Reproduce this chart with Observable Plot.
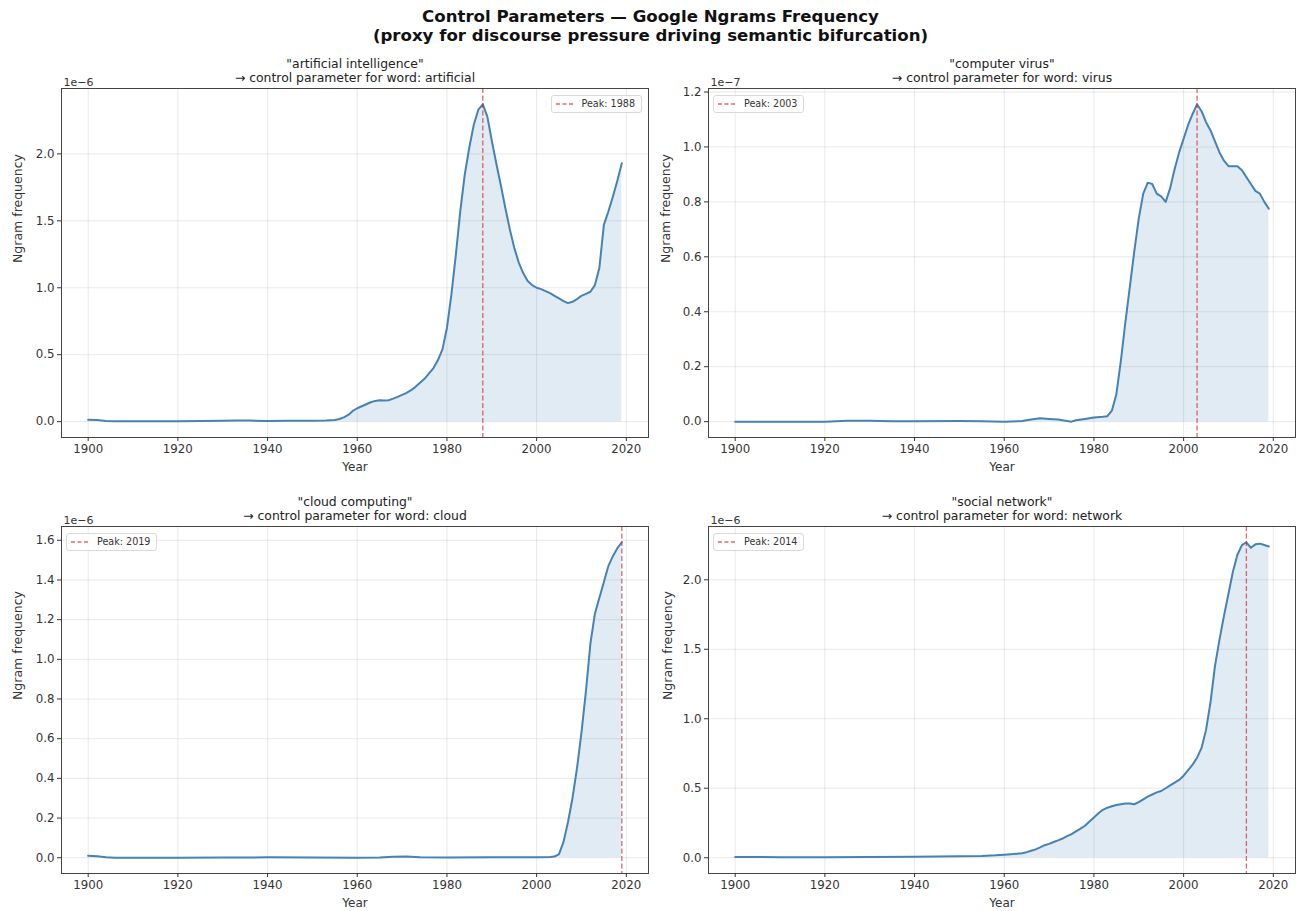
<!DOCTYPE html>
<html>
<head>
<meta charset="utf-8">
<script src="https://cdn.jsdelivr.net/npm/d3@7"></script>
<script src="https://cdn.jsdelivr.net/npm/@observablehq/plot@0.6"></script>
<style>
  html, body { margin: 0; padding: 0; background: #fff; }
  #wrap { position: relative; width: 1301px; height: 911px; font-family: "DejaVu Sans", sans-serif; color: #222; overflow: hidden; }
  #title { position: absolute; left: 0; width: 1301px; top: 7px; text-align: center; font-weight: bold; font-size: 16.6px; line-height: 19px; color: #111; }
  .panel { position: absolute; }
  .panel svg { overflow: visible; }
  .panel svg g[aria-label*="axis"], .panel svg g[aria-label*="axis"] text, .panel svg g.tick text { font-size: 11.8px !important; font-family: "DejaVu Sans", sans-serif !important; }
  .legend { position: absolute; background: rgba(255,255,255,0.85); border: 1px solid #d9d9d9; border-radius: 3px; font-size: 9.6px; color: #333; padding: 2px 6px 2px 4px; line-height: 12px; white-space: nowrap; }
  .legend svg { vertical-align: middle; margin-right: 8px; }
</style>
</head>
<body>
<div id="wrap">
  <div id="title">Control Parameters — Google Ngrams Frequency<br>(proxy for discourse pressure driving semantic bifurcation)</div>
</div>
<script>
// ---- Data ----
// "artificial intelligence"  (units of 1e-6)
const aiYears = [1900,1902,1904,1906,1910,1915,1920,1925,1930,1933,1936,1940,1945,1950,1953,1955,
  1956,1957,1958,1959,1960,1961,1962,1963,1964,1965,1966,1967,1968,1969,1970,1971,1972,1973,1974,1975,
  1976,1977,1978,1979,1980,1981,1982,1983,1984,1985,1986,1987,1988,1989,1990,1991,1992,1993,1994,1995,
  1996,1997,1998,1999,2000,2001,2002,2003,2004,2005,2006,2007,2008,2009,2010,2011,2012,2013,2014,2015,
  2016,2017,2018,2019];
const aiValues = [0.015,0.012,0.004,0.002,0.002,0.003,0.003,0.004,0.006,0.009,0.008,0.005,0.006,0.006,0.008,0.012,
  0.02,0.032,0.05,0.08,0.10,0.115,0.13,0.145,0.155,0.16,0.157,0.16,0.172,0.185,0.20,0.215,0.235,0.26,0.29,0.32,
  0.36,0.40,0.46,0.54,0.70,0.95,1.25,1.58,1.85,2.05,2.22,2.33,2.37,2.28,2.10,1.93,1.77,1.60,1.44,1.30,
  1.19,1.11,1.05,1.02,1.00,0.99,0.975,0.96,0.94,0.92,0.90,0.885,0.895,0.915,0.94,0.955,0.97,1.02,1.15,1.47,
  1.57,1.68,1.80,1.93];

// "computer virus"  (units of 1e-7)
const cvYears = [1900,1910,1920,1925,1930,1935,1940,1950,1955,1960,1964,1966,1968,1970,1972,1974,1975,1976,1978,
  1980,1982,1983,1984,1985,1986,1987,1988,1989,1990,1991,1992,1993,1994,1995,1996,1997,1998,1999,2000,
  2001,2002,2003,2004,2005,2006,2007,2008,2009,2010,2011,2012,2013,2014,2015,2016,2017,2018,2019];
const cvValues = [0.0,0.0,0.0,0.003,0.003,0.001,0.001,0.002,0.001,0.0,0.002,0.008,0.012,0.010,0.008,0.002,0.0,0.005,0.010,
  0.015,0.018,0.02,0.04,0.10,0.22,0.36,0.49,0.62,0.74,0.83,0.87,0.865,0.83,0.82,0.80,0.85,0.92,0.98,1.03,
  1.08,1.12,1.155,1.13,1.09,1.06,1.02,0.98,0.95,0.93,0.93,0.93,0.915,0.89,0.865,0.84,0.83,0.80,0.775];

// "cloud computing"  (units of 1e-6)
const ccYears = [1900,1902,1904,1906,1910,1920,1930,1940,1950,1960,1965,1968,1971,1974,1980,1990,2000,2003,
  2004,2005,2006,2007,2008,2009,2010,2011,2012,2013,2014,2015,2016,2017,2018,2019];
const ccValues = [0.010,0.008,0.002,0.0,0.0,0.0,0.001,0.002,0.001,0.0,0.001,0.005,0.006,0.002,0.001,0.002,0.003,0.004,
  0.006,0.018,0.08,0.18,0.30,0.45,0.63,0.84,1.08,1.23,1.31,1.39,1.47,1.52,1.56,1.59];

// "social network"  (units of 1e-6)
const snYears = [1900,1910,1920,1930,1940,1950,1955,1958,1960,1962,1964,1965,1966,1967,1968,1969,1970,1971,1972,
  1973,1974,1975,1976,1977,1978,1979,1980,1981,1982,1983,1984,1985,1986,1987,1988,1989,1990,1991,1992,
  1993,1994,1995,1996,1997,1998,1999,2000,2001,2002,2003,2004,2005,2006,2007,2008,2009,2010,2011,2012,
  2013,2014,2015,2016,2017,2018,2019];
const snValues = [0.005,0.004,0.004,0.005,0.007,0.010,0.012,0.017,0.022,0.026,0.032,0.040,0.050,0.060,0.074,0.090,0.100,0.113,0.125,
  0.138,0.155,0.170,0.190,0.210,0.230,0.260,0.290,0.320,0.345,0.360,0.370,0.380,0.385,0.390,0.390,0.385,0.400,0.420,0.440,
  0.455,0.470,0.480,0.500,0.520,0.540,0.560,0.590,0.630,0.670,0.720,0.790,0.920,1.120,1.380,1.570,1.740,1.900,2.060,2.180,
  2.250,2.270,2.230,2.255,2.260,2.250,2.240];

// Tick values
const xTicks = [1900,1920,1940,1960,1980,2000,2020];
const aiTicks = [0,0.5,1.0,1.5,2.0];
const cvTicks = [0,0.2,0.4,0.6,0.8,1.0,1.2];
const ccTicks = [0,0.2,0.4,0.6,0.8,1.0,1.2,1.4,1.6];
const snTicks = [0,0.5,1.0,1.5,2.0];

const panels = [
  {phrase: "artificial intelligence", word: "artificial", exp: "1e\u22126", years: aiYears, values: aiValues, ticks: aiTicks,
   left: 0, top: 50, width: 650, height: 430, mL: 61, mR: 2, mT: 38, mB: 43, legend: "right", ylabDx: -44},
  {phrase: "computer virus", word: "virus", exp: "1e\u22127", years: cvYears, values: cvValues, ticks: cvTicks,
   left: 650, top: 50, width: 651, height: 430, mL: 58, mR: 6, mT: 38, mB: 43, legend: "left", ylabDx: -43},
  {phrase: "cloud computing", word: "cloud", exp: "1e\u22126", years: ccYears, values: ccValues, ticks: ccTicks,
   left: 0, top: 488, width: 650, height: 423, mL: 61, mR: 2, mT: 38, mB: 38, legend: "left", ylabDx: -44},
  {phrase: "social network", word: "network", exp: "1e\u22126", years: snYears, values: snValues, ticks: snTicks,
   left: 650, top: 488, width: 651, height: 423, mL: 58, mR: 6, mT: 38, mB: 38, legend: "left", ylabDx: -41}
];

const wrap = document.getElementById("wrap");
const fmt = d3.format(".1f");

for (const p of panels) {
  const data = p.years.map((yr, i) => ({year: yr, v: p.values[i]}));
  const peak = d3.greatest(data, d => d.v);
  const vmax = d3.max(data, d => d.v);
  const chart = Plot.plot({
    width: p.width,
    height: p.height,
    marginLeft: p.mL, marginRight: p.mR, marginTop: p.mT, marginBottom: p.mB,
    style: {fontFamily: "DejaVu Sans, sans-serif", fontSize: "12px", color: "#333", background: "white", overflow: "visible"},
    x: {domain: [1894.05, 2024.95], ticks: xTicks, tickFormat: d => String(d), label: null},
    y: {domain: [-0.05 * vmax, 1.05 * vmax], ticks: p.ticks, tickFormat: fmt, label: null},
    marks: [
      Plot.gridX(xTicks, {stroke: "#b0b0b0", strokeOpacity: 0.35, strokeWidth: 0.8}),
      Plot.gridY(p.ticks, {stroke: "#b0b0b0", strokeOpacity: 0.35, strokeWidth: 0.8}),
      Plot.areaY(data, {x: "year", y: "v", fill: "steelblue", fillOpacity: 0.16}),
      Plot.lineY(data, {x: "year", y: "v", stroke: "steelblue", strokeWidth: 2}),
      Plot.ruleX([peak], {x: "year", stroke: "#d62728", strokeOpacity: 0.7, strokeWidth: 1.3, strokeDasharray: "5,2.5"}),
      Plot.frame({stroke: "#444", strokeWidth: 1}),
      Plot.axisX({ticks: xTicks, tickFormat: d => String(d), tickSize: 4, tickPadding: 3, label: null}),
      Plot.axisY({ticks: p.ticks, tickFormat: fmt, tickSize: 4, tickPadding: 3, label: null}),
      Plot.text([`"${p.phrase}"\n\u2192 control parameter for word: ${p.word}`], {
        text: d => d, frameAnchor: "top", dy: -7, lineAnchor: "bottom", lineHeight: 1.1, fontSize: 12.4, fill: "#222"}),
      Plot.text([p.exp], {text: d => d, frameAnchor: "top-left", dx: 2, dy: -3, lineAnchor: "bottom", textAnchor: "start", fontSize: 11, fill: "#333"}),
      Plot.text(["Year"], {text: d => d, frameAnchor: "bottom", dy: 30, lineAnchor: "middle", fontSize: 12, fill: "#333"}),
      Plot.text(["Ngram frequency"], {text: d => d, frameAnchor: "left", dx: p.ylabDx, rotate: -90, fontSize: 12.5, fill: "#333"})
    ]
  });
  // enlarge the axis tick labels to match the reference
  chart.querySelectorAll('g[aria-label*="axis"]').forEach(g => {
    g.setAttribute("font-size", "11.8");
    g.setAttribute("font-family", "DejaVu Sans, sans-serif");
  });
  const div = document.createElement("div");
  div.className = "panel";
  div.style.left = p.left + "px";
  div.style.top = p.top + "px";
  div.appendChild(chart);
  wrap.appendChild(div);

  const lg = document.createElement("div");
  lg.className = "legend";
  lg.innerHTML = `<svg width="18" height="6"><line x1="0" y1="3" x2="18" y2="3" stroke="#d62728" stroke-opacity="0.7" stroke-width="1.3" stroke-dasharray="4,2.5"/></svg>Peak: ${peak.year}`;
  lg.style.top = (p.top + p.mT + 7) + "px";
  if (p.legend === "right") {
    lg.style.right = (1301 - (p.left + p.width - p.mR) + 6) + "px";
  } else {
    lg.style.left = (p.left + p.mL + 5) + "px";
  }
  wrap.appendChild(lg);
}
</script>
</body>
</html>
